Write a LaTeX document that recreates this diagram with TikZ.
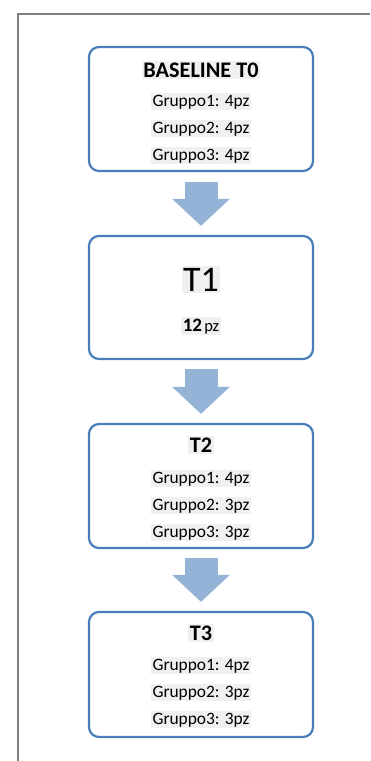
\documentclass[tikz,border=0pt]{standalone}
\usepackage{fontspec}
\setmainfont{Carlito}
\usetikzlibrary{arrows.meta, calc, positioning}
\definecolor{boxBlue}{RGB}{74,126,187}
\definecolor{arrowBlue}{RGB}{149,179,215}
\definecolor{frameGray}{RGB}{128,128,128}
\definecolor{hlGray}{RGB}{240,240,240}
\tikzstyle{stageBox}=[draw=boxBlue, line width=2.2pt, rounded corners=10pt, minimum width=224pt, inner sep=0pt, fill=white]
\tikzstyle{stageTitle}=[anchor=base, inner sep=1.5pt, fill=hlGray, font=\fontsize{22.2}{26}\selectfont\bfseries]
\tikzstyle{groupText}=[anchor=base, inner sep=1.5pt, fill=hlGray, font=\fontsize{17.4}{20}\selectfont]
\tikzstyle{stageArrow}=[line width=33pt, draw=arrowBlue, -{Triangle[length=27pt,width=56pt]}]
\tikzstyle{frameLine}=[draw=frameGray, line width=1.3pt]

\begin{document}
\begin{tikzpicture}[x=1pt, y=-1pt]
    \useasboundingbox (0,0) rectangle (370,761);

    % Frame
    \draw[frameLine] (370,14) -- (18,14) -- (18,761);

    % Stage Boxes
    \node[stageBox, minimum height=124pt] (base) at (201, 109) {};
    \node[stageBox, minimum height=123pt] (tOne) at (201, 297.5) {};
    \node[stageBox, minimum height=124pt] (tTwo) at (201, 486) {};
    \node[stageBox, minimum height=125pt] (tThree) at (201, 674.5) {};

    % Baseline texts
    \node[stageTitle] (baseTitle) at (201, 77) {BASELINE T0};
    \node[groupText] (baseG1) at (201, 106) {Gruppo1: 4pz};
    \node[groupText] (baseG2) at (201, 133) {Gruppo2: 4pz};
    \node[groupText] (baseG3) at (201, 160) {Gruppo3: 4pz};

    % T1 texts
    \node[anchor=base, inner sep=1.5pt, fill=hlGray, font=\fontsize{36}{40}\selectfont] (tOneTitle) at (201, 291) {T1};
    \node[anchor=base, inner sep=1.5pt, fill=hlGray] (tOneCount) at (201, 331) {{\fontsize{19}{20}\selectfont\bfseries 12} {\fontsize{16.5}{18}\selectfont pz}};

    % T2 texts
    \node[stageTitle] (tTwoTitle) at (201, 452) {T2};
    \node[groupText] (tTwoG1) at (201, 483) {Gruppo1: 4pz};
    \node[groupText] (tTwoG2) at (201, 510) {Gruppo2: 3pz};
    \node[groupText] (tTwoG3) at (201, 537) {Gruppo3: 3pz};

    % T3 texts
    \node[stageTitle] (tThreeTitle) at (201, 640) {T3};
    \node[groupText] (tThreeG1) at (201, 670) {Gruppo1: 4pz};
    \node[groupText] (tThreeG2) at (201, 697) {Gruppo2: 3pz};
    \node[groupText] (tThreeG3) at (201, 724) {Gruppo3: 3pz};

    % Stage Arrows
    \draw[stageArrow] ($(base.south)+(0,10)$) -- ($(tOne.north)+(0,-9)$);
    \draw[stageArrow] ($(tOne.south)+(0,9)$) -- ($(tTwo.north)+(0,-9)$);
    \draw[stageArrow] ($(tTwo.south)+(0,9)$) -- ($(tThree.north)+(0,-9)$);
\end{tikzpicture}
\end{document}
